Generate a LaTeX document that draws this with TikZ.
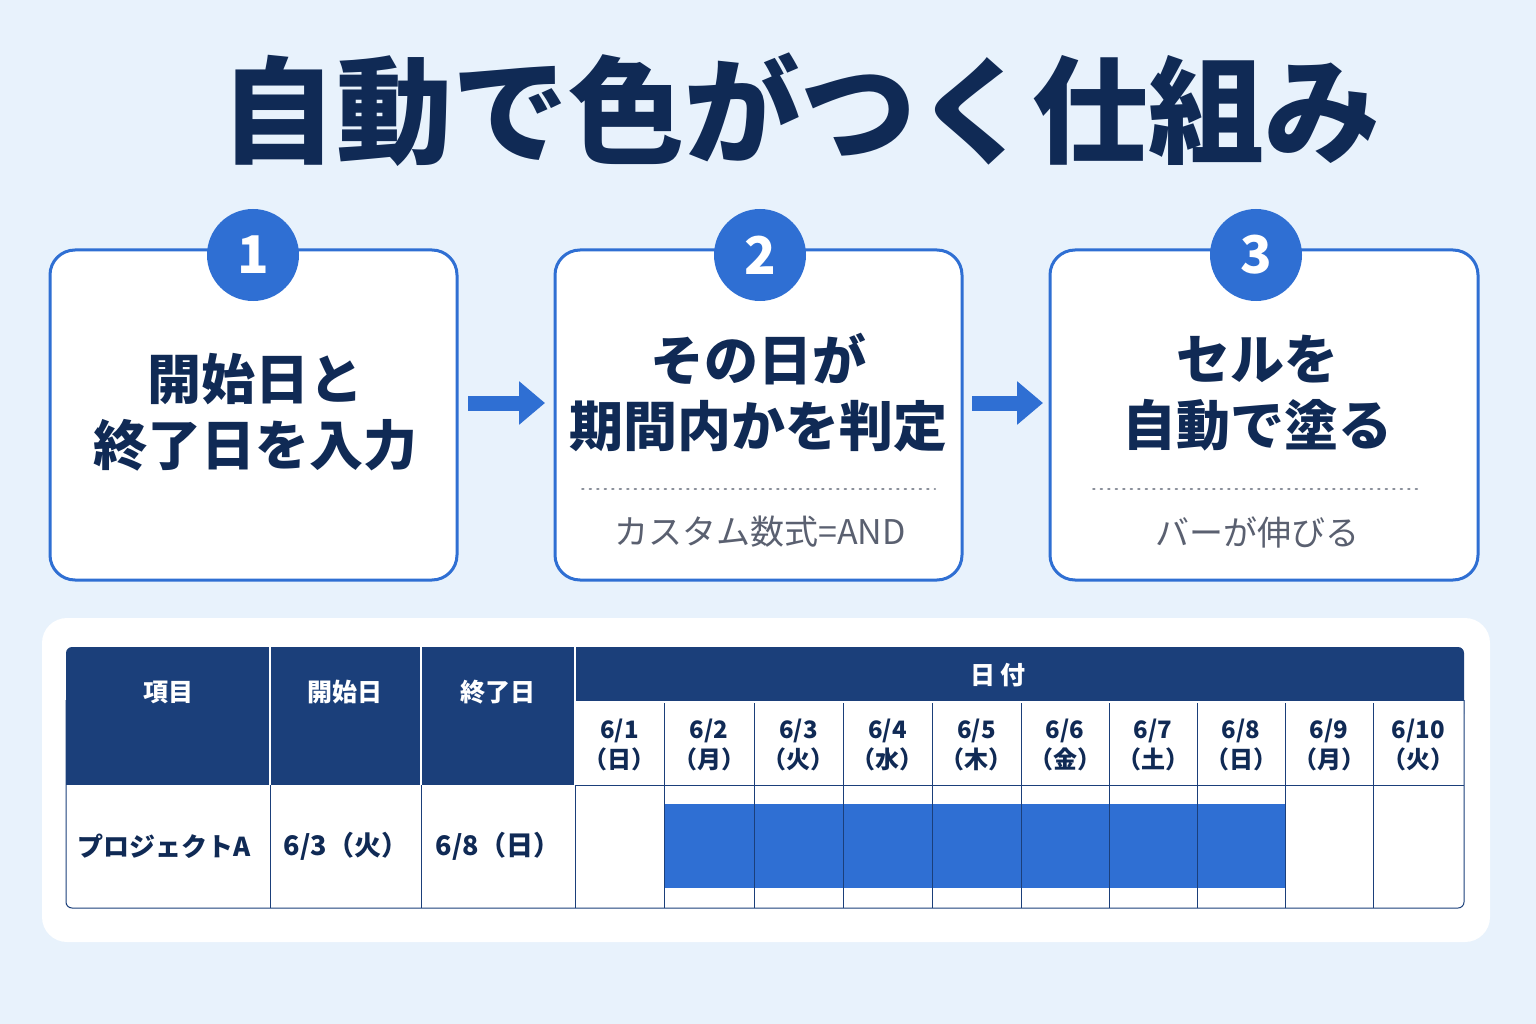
\documentclass[tikz,border=0pt]{standalone}
\usepackage{fontspec}
\setmainfont{Noto Sans CJK JP}
\newfontfamily\jpb{Noto Sans CJK JP}[FakeBold=0,BoldFont={* Bold}]
\usetikzlibrary{arrows.meta}
\definecolor{bg}{HTML}{E8F2FC}
\definecolor{navy}{HTML}{102A55}
\definecolor{hdr}{HTML}{1B3F7A}
\definecolor{blu}{HTML}{2F6FD3}
\definecolor{gry}{HTML}{5A6070}
\begin{document}
\begin{tikzpicture}[x=1pt,y=-1pt,
 box/.style={draw=blu,line width=3pt,rounded corners=25pt,fill=white},
 num/.style={circle,fill=blu,minimum size=92pt,inner sep=0pt,text=white,font=\fontsize{52}{52}\bfseries},
 big/.style={text=navy,font=\fontsize{54}{66}\bfseries,align=center},
 sub/.style={text=gry,font=\fontsize{34}{34}\selectfont},
 dots/.style={gry!70,line width=2pt,dash pattern=on 1.5pt off 6pt,line cap=round},
 barr/.style={blu,line width=15pt,-{Triangle[length=26pt,width=42pt]}},
 th/.style={text=white,font=\fontsize{25}{25}\bfseries},
 td/.style={text=navy,font=\fontsize{24}{30}\bfseries,align=center},
 cell/.style={draw=hdr,line width=1pt}]
\fill[bg] (0,0) rectangle (1536,1024);
\node[text=navy,font=\fontsize{116}{116}\bfseries] (title) at (800,110) {自動で色がつく仕組み};
% boxes
\draw[box] (50,250) rectangle (457,580);
\draw[box] (555,250) rectangle (962,580);
\draw[box] (1050,250) rectangle (1478,580);
\node[num] (n1) at (253,255) {1};
\node[num] (n2) at (760,255) {2};
\node[num] (n3) at (1256,255) {3};
\node[big] (t1) at (255,412) {開始日と\\終了日を入力};
\node[big] (t2) at (758,393) {その日が\\期間内かを判定};
\node[big] (t3) at (1257,393) {セルを\\自動で塗る};
\draw[dots] (582,489) -- (935,489);
\draw[dots] (1093,489) -- (1420,489);
\node[sub] (s2) at (760,532) {カスタム数式=AND};
\node[sub] (s3) at (1257,532) {バーが伸びる};
\coordinate (a1s) at (468,403); \coordinate (a1e) at (545,403);
\coordinate (a2s) at (972,403); \coordinate (a2e) at (1043,403);
\draw[barr] (a1s) -- (a1e);
\draw[barr] (a2s) -- (a2e);
% panel
\fill[white,rounded corners=25pt] (42,618) rectangle (1490,942);
\fill[hdr,rounded corners=6pt] (66,647) rectangle (1464,720);
\fill[hdr] (66,690) rectangle (575,785);
\fill[hdr] (575,690) rectangle (1464,702);
\fill[white] (575,702) rectangle (1464,785);
\fill[blu] (664,804) rectangle (1285,888);
\foreach \x in {575,664,754,843,932,1021,1109,1197,1285,1373}
  \draw[cell] (\x,702) -- (\x,908);
\draw[cell] (575,785) -- (1464,785);
\draw[white,line width=1.5pt] (270,647) -- (270,785) (421,647) -- (421,785) (575,647) -- (575,785) (575,702) -- (1464,702);
\draw[cell] (270,785) -- (270,908) (421,785) -- (421,908);
\draw[cell,rounded corners=6pt] (66,700) -- (66,908) -- (1464,908) -- (1464,700);
\node[th] (h1) at (168,692) {項目};
\node[th] (h2) at (345,692) {開始日};
\node[th] (h3) at (498,692) {終了日};
\node[th] (h4) at (998,675) {日 付};
\foreach \c/\d/\w in {619.5/1/日,709/2/月,798.5/3/火,887.5/4/水,976.5/5/木,1065/6/金,1153/7/土,1241/8/日,1329/9/月,1418.5/10/火}
  \node[td] (d\d) at (\c,745) {6/\d\\（\w）};
\node[td,font=\fontsize{26}{26}\bfseries] (r1) at (164,846) {プロジェクトA};
\node[td,font=\fontsize{27}{27}\bfseries] (r2) at (346,846) {6/3（火）};
\node[td,font=\fontsize{27}{27}\bfseries] (r3) at (498,846) {6/8（日）};
\end{tikzpicture}
\end{document}
